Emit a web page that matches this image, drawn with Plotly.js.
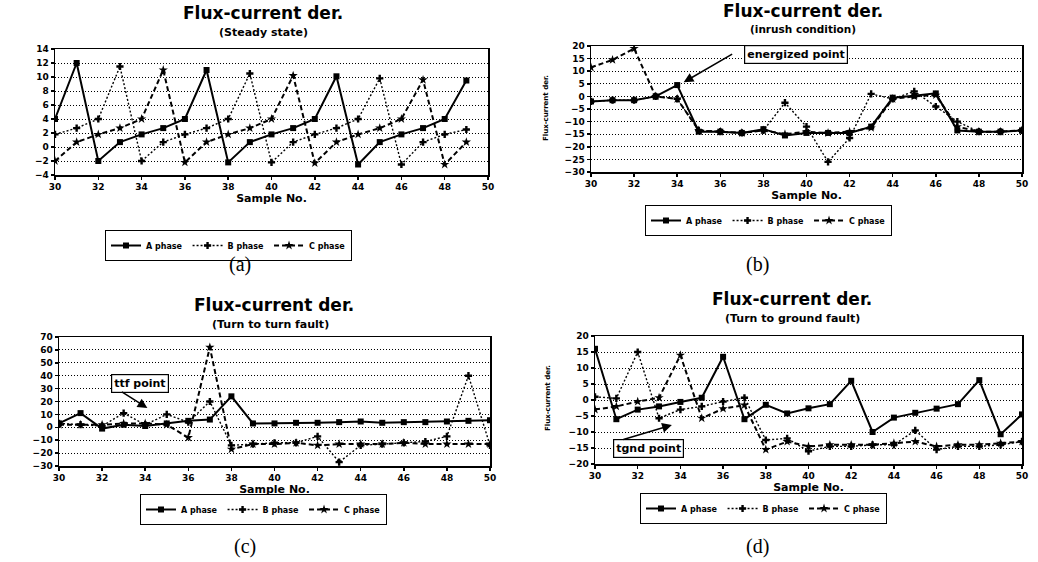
<!DOCTYPE html>
<html>
<head>
<meta charset="utf-8">
<script src="https://cdn.plot.ly/plotly-3.0.1.min.js"></script>
<style>html,body{margin:0;padding:0;background:#fff;}#chart{width:1038px;height:562px;}</style>
</head>
<body>
<div id="chart"></div>
<script>
// ---------- data ----------
const samplesA = [30,31,32,33,34,35,36,37,38,39,40,41,42,43,44,45,46,47,48,49];
const samples = [30,31,32,33,34,35,36,37,38,39,40,41,42,43,44,45,46,47,48,49,50];
const seriesNames = ["A phase", "B phase", "C phase"];

// (a) Steady state
const steadyA = [4,12,-2,0.7,1.8,2.7,4,11,-2.2,0.7,1.8,2.7,4,10.1,-2.5,0.7,1.8,2.7,4,9.5];
const steadyB = [1.8,2.7,4,11.5,-2,0.7,1.8,2.7,4,10.5,-2.2,0.7,1.8,2.7,4,9.8,-2.5,0.7,1.8,2.5];
const steadyC = [-2,0.7,1.8,2.7,4,11,-2.2,0.7,1.8,2.7,4,10.2,-2.3,0.7,1.8,2.7,4,9.6,-2.5,0.7];

// (b) Inrush condition
const inrushA = [-2,-1.5,-1.5,0,4.5,-14,-14,-14.5,-13,-15.5,-14.5,-14.5,-14.5,-12,-0.5,0.3,1.2,-13.5,-14,-14,-13.5];
const inrushB = [-2,-1.5,-1.5,0,-1,-13.5,-14,-14.5,-13.5,-2.5,-12,-26,-16.5,1,-1,2,-4,-10,-14,-14,-13.5];
const inrushC = [11.5,14.5,19,0,-1,-13.5,-14,-14.5,-13.5,-15,-14,-14.5,-14,-12.5,-1,0,0.5,-12,-14,-14,-13.5];

// (c) Turn to turn fault
const ttfA = [3,11,-1,2,1,3,5,6,24,3,3,3.5,3.5,4,4.5,3.5,4,4,4.5,5,5.5];
const ttfB = [3,2,1,11,2,10,4,20,-14,-13,-12,-12,-7,-27,-14,-13,-12,-11,-7,40,-14];
const ttfC = [2,2,2,3,3,2,-8,62,-17,-13,-13,-12,-14,-13,-13,-13,-12,-13,-13,-13,-13];

// (d) Turn to ground fault
const tgndA = [16,-6,-3,-2,-0.6,0.7,13.5,-6,-1.5,-4.2,-2.6,-1.3,6,-10,-5.5,-4,-2.7,-1.3,6.2,-10.7,-4.5];
const tgndB = [1,0.5,15,-5.7,-3,-2,-0.5,0.7,-12.5,-12,-16,-14.5,-14.5,-14,-14,-9.5,-15.5,-14.5,-14.5,-14,-13];
const tgndC = [-3,-2,-0.5,0.7,14,-5.7,-2.7,-1.6,-15.5,-13,-14.5,-14,-14,-14,-13.5,-13,-14.5,-14,-14,-13.5,-13];

const yTicksA = [-4,-2,0,2,4,6,8,10,12,14];
const yTicksB = [-30,-25,-20,-15,-10,-5,0,5,10,15,20];
const yTicksC = [-30,-20,-10,0,10,20,30,40,50,60,70];
const yTicksD = [-20,-15,-10,-5,0,5,10,15,20];
const xTicks = [30,32,34,36,38,40,42,44,46,48,50];

// ---------- helpers ----------
const W = 1038, H = 562;
const px = v => v / W;
const py = v => 1 - v / H;
const FONT = "DejaVu Sans";

const styles = [
  {line:{color:"black", width:2, dash:"solid"}, marker:{symbol:"square", size:6, color:"black"}},
  {line:{color:"black", width:1.4, dash:"2px,2px"}, marker:{symbol:"cross", size:6, color:"black"}},
  {line:{color:"black", width:2, dash:"5px,3px"}, marker:{symbol:"star", size:7, color:"black"}}
];

const panels = [
  {xs: samplesA, ys: [steadyA, steadyB, steadyC], ax: "", legend: "legend"},
  {xs: samples, ys: [inrushA, inrushB, inrushC], ax: "2", legend: "legend2"},
  {xs: samples, ys: [ttfA, ttfB, ttfC], ax: "3", legend: "legend3"},
  {xs: samples, ys: [tgndA, tgndB, tgndC], ax: "4", legend: "legend4"}
];

const traces = [];
panels.forEach(p => {
  p.ys.forEach((y, i) => {
    traces.push({
      x: p.xs, y: y, type: "scatter", mode: "lines+markers",
      name: seriesNames[i],
      xaxis: "x" + p.ax, yaxis: "y" + p.ax,
      legend: p.legend,
      line: styles[i].line, marker: styles[i].marker
    });
  });
});

function xAxis(d0, d1, anchor) {
  return {
    domain: [px(d0), px(d1)], anchor: anchor, range: [30, 50],
    tickvals: xTicks, ticks: "outside", ticklen: 3, tickwidth: 1.5, tickcolor: "black",
    showline: true, linecolor: "black", linewidth: 1.5, mirror: true,
    showgrid: false, zeroline: false,
    tickfont: {family: FONT, size: 9, weight: "bold", color: "black"},
    title: {text: "Sample No.", font: {family: FONT, size: 11, weight: "bold", color: "black"}, standoff: 2}
  };
}
function yAxis(top, bottom, anchor, range, ticks) {
  return {
    domain: [py(bottom), py(top)], anchor: anchor, range: range,
    tickvals: ticks, ticks: "outside", ticklen: 3, tickwidth: 1.5, tickcolor: "black",
    showline: true, linecolor: "black", linewidth: 1.5, mirror: true,
    showgrid: true, gridcolor: "black", gridwidth: 1, griddash: "1px,2px",
    zeroline: false,
    tickfont: {family: FONT, size: 9, weight: "bold", color: "black"}
  };
}

function legendAt(x, y) {
  return {
    x: px(x), y: py(y), xanchor: "left", yanchor: "top", orientation: "h",
    bordercolor: "black", borderwidth: 1, bgcolor: "white",
    font: {family: FONT, size: 8, weight: "bold", color: "black"},
    itemwidth: 30, tracegroupgap: 0, itemclick: false
  };
}

const ann = [];
function txt(x, y, text, size, opts) {
  ann.push(Object.assign({
    xref: "paper", yref: "paper", x: px(x), y: py(y), text: text, showarrow: false,
    xanchor: "center", yanchor: "middle",
    font: {family: FONT, size: size, weight: "bold", color: "black"}
  }, opts || {}));
}
// titles
txt(263, 13, "Flux-current der.", 17);
txt(263, 32, "(Steady state)", 11);
txt(803, 11, "Flux-current der.", 17);
txt(803, 29, "(inrush condition)", 10.5);
txt(274, 305, "Flux-current der.", 17);
txt(270, 324, "(Turn to turn fault)", 11);
txt(792, 299, "Flux-current der.", 17);
txt(792, 318, "(Turn to ground fault)", 11);
// y axis titles
txt(546, 108, "Flux-current der.", 7, {textangle: -90});
txt(548, 398, "Flux-current der.", 7, {textangle: -90});
// panel labels
const serif = {family: "Liberation Serif", size: 20, color: "black"};
txt(240, 264, "(a)", 20, {font: serif});
txt(757, 264, "(b)", 20, {font: serif});
txt(245, 546, "(c)", 20, {font: serif});
txt(757, 546, "(d)", 20, {font: serif});

// callouts (text boxes)
function box(x, y, text) {
  ann.push({xref: "paper", yref: "paper", x: px(x), y: py(y), text: text, showarrow: false,
    xanchor: "center", yanchor: "middle", bordercolor: "black", borderwidth: 1.2, borderpad: 2,
    bgcolor: "white", font: {family: FONT, size: 11, weight: "bold", color: "black"}});
}
function arrow(axn, hx, hy, ax, ay) {
  ann.push({xref: "x" + axn, yref: "y" + axn, x: hx, y: hy, text: "", showarrow: true,
    arrowhead: 2, arrowsize: 1.3, arrowwidth: 1.5, arrowcolor: "black", ax: ax, ay: ay});
}
box(796, 55, "energized point");
arrow("2", 34.3, 5.6, 50, -29);
box(140, 383, "ttf point");
arrow("3", 34.1, 15, -27, -17);
box(648, 448, "tgnd point");
arrow("4", 33.6, -7.8, -50, 15);

const layout = {
  width: W, height: H, margin: {l: 0, r: 0, t: 0, b: 0},
  paper_bgcolor: "white", plot_bgcolor: "white",
  font: {family: FONT, color: "black"},
  xaxis: xAxis(55, 488, "y"),
  yaxis: yAxis(49, 175, "x", [-4, 14], yTicksA),
  xaxis2: xAxis(591, 1022, "y2"),
  yaxis2: yAxis(46, 172, "x2", [-30, 20], yTicksB),
  xaxis3: xAxis(59, 490, "y3"),
  yaxis3: yAxis(337, 466, "x3", [-30, 70], yTicksC),
  xaxis4: xAxis(595, 1022, "y4"),
  yaxis4: yAxis(336, 464, "x4", [-20, 20], yTicksD),
  legend: legendAt(105, 230),
  legend2: legendAt(645, 205),
  legend3: legendAt(140, 494),
  legend4: legendAt(640, 493),
  annotations: ann,
  showlegend: true
};

Plotly.newPlot("chart", traces, layout, {staticPlot: true, displayModeBar: false});
</script>
</body>
</html>
